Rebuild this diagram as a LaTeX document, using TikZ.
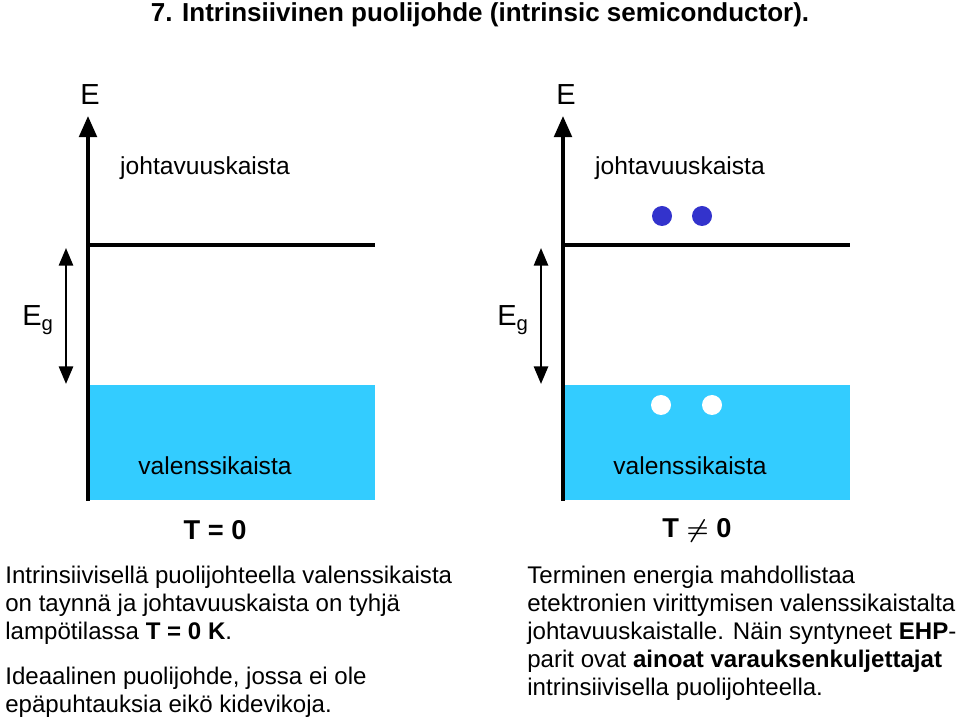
\documentclass[tikz,border=0pt]{standalone}
\usepackage{amsmath}
\usepackage{bm}
\usepackage{fontspec}
\setmainfont{Liberation Sans}
\usetikzlibrary{positioning,arrows.meta}
\definecolor{bandblue}{HTML}{33CCFF}
\definecolor{dotblue}{HTML}{3333CC}
\begin{document}
\begin{tikzpicture}[x=0.02cm,y=-0.02cm,font=\fontsize{14}{16}\selectfont,
    axis/.style={line width=2pt,-{Triangle[length=12pt,width=10pt]}},
    gap/.style={line width=1.4pt,{Triangle[length=10pt,width=8pt]}-{Triangle[length=10pt,width=8pt]}},
    lbl/.style={inner sep=0pt},
    para/.style={align=left,anchor=north west,inner sep=0pt,text depth=0pt,font=\fontsize{13.7}{15.9}\selectfont}]
  \useasboundingbox (0,0) rectangle (960,722);
  \node[lbl,font=\bfseries\fontsize{14.8}{18}\selectfont] (title) at (480,15) {7. Intrinsiivinen puolijohde (intrinsic semiconductor).};
  % left band diagram
  \fill[bandblue] (90,385) rectangle (375,500);
  \coordinate (lo) at (88,501);
  \coordinate (lt) at (88,116);
  \draw[axis] (lo) -- (lt);
  \draw[line width=2pt] (88,245) -- (375,245);
  \coordinate (ga) at (66,248);
  \coordinate (gb) at (66,384);
  \draw[gap] (ga) -- (gb);
  \node[lbl,font=\fontsize{16.5}{18}\selectfont] (e1) at (90,95) {E};
  \node[lbl,font=\fontsize{16.5}{18}\selectfont] (eg1) at (38,320) {E\textsubscript{g}};
  \node[lbl] (cb1) at (205,168) {johtavuuskaista};
  \node[lbl] (vb1) at (215,466) {valenssikaista};
  \node[lbl,font=\bfseries\fontsize{15.5}{18}\selectfont] (t1) at (215,530) {T = 0};
  % right band diagram
  \fill[bandblue] (565,385) rectangle (850,500);
  \coordinate (ro) at (563,501);
  \coordinate (rt) at (563,116);
  \draw[axis] (ro) -- (rt);
  \draw[line width=2pt] (563,245) -- (850,245);
  \coordinate (gc) at (541,248);
  \coordinate (gd) at (541,384);
  \draw[gap] (gc) -- (gd);
  \node[lbl,font=\fontsize{16.5}{18}\selectfont] (e2) at (566,95) {E};
  \node[lbl,font=\fontsize{16.5}{18}\selectfont] (eg2) at (513,320) {E\textsubscript{g}};
  \node[lbl] (cb2) at (680,168) {johtavuuskaista};
  \node[lbl] (vb2) at (690,466) {valenssikaista};
  \node[lbl,font=\bfseries\fontsize{15.5}{18}\selectfont] (t2) at (697,530) {T $\bm{\neq}$ 0};
  \foreach \x in {662,702} \fill[dotblue] (\x,216) circle (10);
  \foreach \x in {661,712} \fill[white] (\x,405) circle (10);
  % texts
  \node[para] (p1) at (5,566) {Intrinsiivisellä puolijohteella valenssikaista\\on taynnä ja johtavuuskaista on tyhjä\\lampötilassa \textbf{T = 0 K}.};
  \node[para] (p2) at (5,667) {Ideaalinen puolijohde, jossa ei ole\\epäpuhtauksia eikö kidevikoja.};
  \node[para] (p3) at (527,566) {Terminen energia mahdollistaa\\etektronien virittymisen valenssikaistalta\\johtavuuskaistalle. Näin syntyneet \textbf{EHP}-\\parit ovat \textbf{ainoat varauksenkuljettajat}\\intrinsiivisella puolijohteella.};
\end{tikzpicture}
\end{document}
